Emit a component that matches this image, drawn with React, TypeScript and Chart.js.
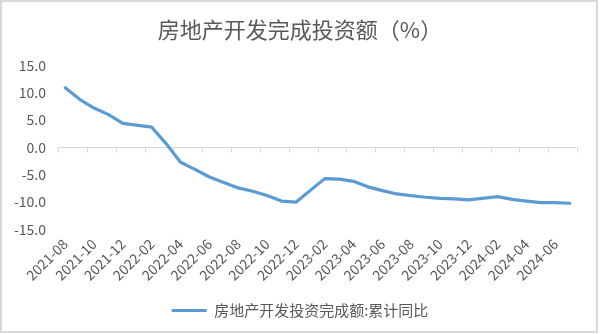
import React, { useEffect, useRef } from 'react';
import { Chart, registerables } from 'chart.js';

Chart.register(...registerables);

const TITLE = '房地产开发完成投资额（%）';
const SERIES_NAME = '房地产开发投资完成额:累计同比';

const months: string[] = [
  '2021-08', '2021-09', '2021-10', '2021-11', '2021-12',
  '2022-01', '2022-02', '2022-03', '2022-04', '2022-05', '2022-06',
  '2022-07', '2022-08', '2022-09', '2022-10', '2022-11', '2022-12',
  '2023-01', '2023-02', '2023-03', '2023-04', '2023-05', '2023-06',
  '2023-07', '2023-08', '2023-09', '2023-10', '2023-11', '2023-12',
  '2024-01', '2024-02', '2024-03', '2024-04', '2024-05', '2024-06', '2024-07',
];

const values: (number | null)[] = [
  10.9, 8.8, 7.2, 6.0, 4.4,
  null, 3.7, 0.7, -2.7, -4.0, -5.4,
  -6.4, -7.4, -8.0, -8.8, -9.8, -10.0,
  null, -5.7, -5.8, -6.2, -7.2, -7.9,
  -8.5, -8.8, -9.1, -9.3, -9.4, -9.6,
  null, -9.0, -9.5, -9.8, -10.1, -10.1, -10.2,
];

const Y_MIN = -15;
const Y_MAX = 15;
const Y_STEP = 5;

const LINE_COLOR = '#5B9BD5';
const TEXT_COLOR = '#595959';
const AXIS_COLOR = '#D9D9D9';
const FONT = '"Noto Sans CJK SC", "Noto Sans", sans-serif';

const frame = {
  id: 'frame',
  beforeDraw(chart: any) {
    const { ctx, width, height } = chart;
    ctx.save();
    ctx.fillStyle = '#ffffff';
    ctx.fillRect(0, 0, width, height);
    ctx.strokeStyle = AXIS_COLOR;
    ctx.lineWidth = 2;
    ctx.strokeRect(1, 1, width - 4, height - 3);
    ctx.restore();
  },
};

const zeroAxisTicks = {
  id: 'zeroAxisTicks',
  beforeDatasetsDraw(chart: any) {
    const x = chart.scales.x;
    const y = chart.scales.y;
    const y0 = y.getPixelForValue(0);
    const band = x.getPixelForValue(1) - x.getPixelForValue(0);
    const ctx = chart.ctx;
    ctx.save();
    ctx.strokeStyle = AXIS_COLOR;
    ctx.lineWidth = 1;
    ctx.beginPath();
    for (let i = 0; i <= months.length; i += 2) {
      const px = Math.round(x.getPixelForValue(0) + (i - 0.5) * band) + 0.5;
      ctx.moveTo(px, y0);
      ctx.lineTo(px, y0 + 5);
    }
    ctx.stroke();
    ctx.restore();
  },
};

export default function App() {
  const ref = useRef<HTMLCanvasElement | null>(null);

  useEffect(() => {
    if (!ref.current) return;
    Chart.defaults.font.family = FONT;
    const chart = new Chart(ref.current, {
      type: 'line',
      data: {
        labels: months,
        datasets: [
          {
            label: SERIES_NAME,
            data: values,
            borderColor: LINE_COLOR,
            backgroundColor: LINE_COLOR,
            borderWidth: 3.2,
            pointRadius: 0,
            pointHoverRadius: 0,
            tension: 0,
            spanGaps: true,
            borderCapStyle: 'round',
            borderJoinStyle: 'round',
            fill: false,
          },
        ],
      },
      options: {
        responsive: false,
        animation: false,
        devicePixelRatio: 1,
        layout: { padding: { left: 0, right: 0, top: 0, bottom: 6 } },
        plugins: {
          title: {
            display: true,
            text: TITLE,
            color: TEXT_COLOR,
            font: { size: 22, weight: 'normal', family: FONT },
            padding: { top: 16, bottom: 23 },
          },
          legend: {
            display: true,
            position: 'bottom',
            labels: {
              color: TEXT_COLOR,
              font: { size: 15, family: FONT },
              usePointStyle: true,
              pointStyle: 'line',
              pointStyleWidth: 35,
              padding: 10,
            },
          },
          tooltip: { enabled: false },
        },
        scales: {
          x: {
            type: 'category',
            offset: true,
            grid: { display: false },
            border: { display: false },
            ticks: {
              autoSkip: false,
              maxRotation: 45,
              minRotation: 45,
              color: TEXT_COLOR,
              font: { size: 14, family: FONT },
              padding: -2,
              callback: (_v: any, i: number) => (i % 2 === 0 ? months[i] : ''),
            },
            afterFit: (s: any) => {
              s.height = 63.5;
            },
          },
          y: {
            min: Y_MIN,
            max: Y_MAX,
            grid: {
              drawTicks: false,
              color: (c: any) => (c.tick && c.tick.value === 0 ? AXIS_COLOR : 'rgba(0,0,0,0)'),
            },
            border: { display: false },
            ticks: {
              stepSize: Y_STEP,
              color: TEXT_COLOR,
              font: { size: 14, family: FONT },
              padding: 12,
              callback: (v: any) => Number(v).toFixed(1),
            },
            afterFit: (s: any) => {
              s.width = 58;
            },
          },
          yRight: {
            position: 'right',
            display: true,
            grid: { display: false },
            border: { display: false },
            ticks: { display: false },
            afterFit: (s: any) => {
              s.width = 23;
            },
          },
        },
      },
      plugins: [frame, zeroAxisTicks],
    } as any);
    return () => chart.destroy();
  }, []);

  return (
    <div style={{ position: 'absolute', left: 0, top: 0, width: 600, height: 334 }}>
      <canvas ref={ref} width={600} height={334} style={{ display: 'block' }} />
    </div>
  );
}
